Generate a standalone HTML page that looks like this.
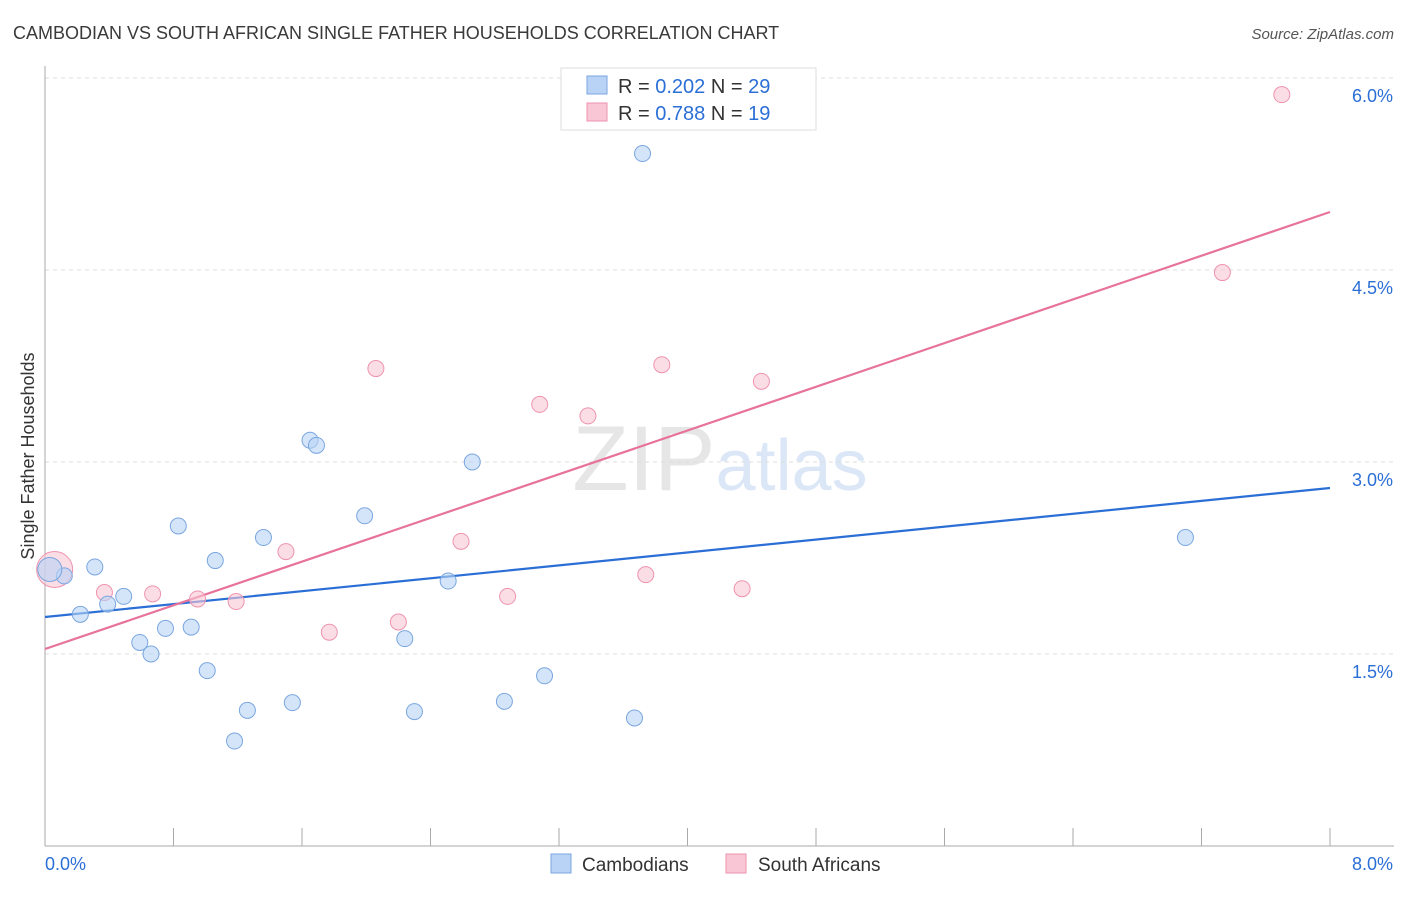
<!DOCTYPE html>
<html><head><meta charset="utf-8"><style>
body{margin:0;background:#fff;font-family:"Liberation Sans",sans-serif;}
svg text{font-family:"Liberation Sans",sans-serif;}
</style></head><body>
<svg id="chart" width="1406" height="892" viewBox="0 0 1406 892" xmlns="http://www.w3.org/2000/svg">
<text x="13" y="39" font-size="18" fill="#3a3a3a">CAMBODIAN VS SOUTH AFRICAN SINGLE FATHER HOUSEHOLDS CORRELATION CHART</text>
<text x="1394" y="39" font-size="15" fill="#555" text-anchor="end" font-style="italic">Source: ZipAtlas.com</text>
<text x="720" y="490" font-size="92" text-anchor="middle" fill="#e6e6e6" font-family="Liberation Serif,serif">ZIP<tspan fill="#dbe7f7" font-family="Liberation Sans,sans-serif" font-size="72">atlas</tspan></text>
<g id="grid"></g>
<g id="axes"></g>
<g id="lines"></g>
<g id="pts"></g>
<text transform="translate(34,456) rotate(-90)" font-size="18" fill="#333" text-anchor="middle">Single Father Households</text>
<g>
<rect x="561" y="68" width="255" height="62" fill="#fff" stroke="#ddd"/>
<rect x="587" y="76" width="20" height="18" fill="#b8d3f5" stroke="#7aa6e0"/>
<text x="618" y="93" font-size="20" fill="#333">R = <tspan fill="#2b6fd6">0.202</tspan>   N = <tspan fill="#2b6fd6">29</tspan></text>
<rect x="587" y="103" width="20" height="18" fill="#f9c6d5" stroke="#ee93ae"/>
<text x="618" y="120" font-size="20" fill="#333">R = <tspan fill="#2b6fd6"> 0.788</tspan>   N = <tspan fill="#2b6fd6"> 19</tspan></text>
</g>
<g>
<rect x="551" y="854" width="20" height="19" fill="#b8d3f5" stroke="#7aa6e0"/>
<text x="582" y="871" font-size="19" fill="#333">Cambodians</text>
<rect x="726" y="854" width="20" height="19" fill="#f9c6d5" stroke="#ee93ae"/>
<text x="758" y="871" font-size="19" fill="#333">South Africans</text>
</g>
</svg>
<script>
const yTicks=[1.5,3.0,4.5,6.0];
const xTickLabels=["0.0%","8.0%"];
const blueX=[0.12,0.31,0.22,0.39,0.49,0.59,0.66,0.75,0.83,0.91,1.01,1.06,1.18,1.26,1.36,1.54,1.65,1.69,1.99,2.24,2.30,2.51,2.66,2.86,3.11,3.67,3.72,7.10,0.03];
const blueY=[2.11,2.18,1.81,1.89,1.95,1.59,1.50,1.70,2.50,1.71,1.37,2.23,0.82,1.06,2.41,1.12,3.17,3.13,2.58,1.62,1.05,2.07,3.00,1.13,1.33,1.00,5.41,2.41,2.16];
const pinkX=[0.06,0.37,0.67,0.95,1.19,1.50,1.77,2.06,2.20,2.59,2.88,3.08,3.38,3.74,3.84,4.34,4.46,7.33,7.70];
const pinkY=[2.16,1.98,1.97,1.93,1.91,2.30,1.67,3.73,1.75,2.38,1.95,3.45,3.36,2.12,3.76,2.01,3.63,4.48,5.87];
const blueFit=[1.789,2.797];
const pinkFit=[1.539,4.953];
const NS="http://www.w3.org/2000/svg";
const sx=v=>45+v*160.625, sy=v=>846-v*128;
function mk(t,a,p){const e=document.createElementNS(NS,t);for(const k in a)e.setAttribute(k,a[k]);p.appendChild(e);return e;}
const grid=document.getElementById('grid'),axes=document.getElementById('axes'),lines=document.getElementById('lines'),pts=document.getElementById('pts');
yTicks.forEach(t=>{
 const l=mk('line',{x1:45,x2:1394,y1:sy(t),y2:sy(t),stroke:'#ddd','stroke-dasharray':'4,4'},grid);
 
 
 const tx=mk('text',{x:1393,y:sy(t)+24,'font-size':18,fill:'#2b6fd6','text-anchor':'end'},grid);
 tx.textContent=t.toFixed(1)+'%';
 
 
});
const ya=mk('line',{x1:45,x2:45,y1:66,y2:846,stroke:'#aaa'},axes);


const xa=mk('line',{x1:45,x2:1394,y1:846,y2:846,stroke:'#aaa'},axes);


for(let i=0;i<=10;i++){
 const tk=mk('line',{x1:sx(i*0.8),x2:sx(i*0.8),y1:828,y2:846,stroke:'#aaa'},axes);
 
 
}
[[0,'start',45],[8,'end',1393]].forEach(([v,a,x],i)=>{
 const tx=mk('text',{x:x,y:870,'font-size':18,fill:'#2b6fd6','text-anchor':a},axes);
 tx.textContent=xTickLabels[i];
 
 
});
const bl=mk('line',{x1:sx(0),y1:sy(blueFit[0]),x2:sx(8),y2:sy(blueFit[1]),stroke:'#2b6fd6','stroke-width':2.2},lines);


const pl=mk('line',{x1:sx(0),y1:sy(pinkFit[0]),x2:sx(8),y2:sy(pinkFit[1]),stroke:'#e8739a','stroke-width':2.2},lines);


pinkX.forEach((x,i)=>{
 const c=mk('circle',{cx:sx(x),cy:sy(pinkY[i]),r:i==0?18:8,fill:'#f9c6d5','fill-opacity':0.6,stroke:'#ee93ae','stroke-width':1},pts);
 
 
});
blueX.forEach((x,i)=>{
 const c=mk('circle',{cx:sx(x),cy:sy(blueY[i]),r:i==blueX.length-1?12:8,fill:'#b8d3f5','fill-opacity':0.6,stroke:'#7aa6e0','stroke-width':1},pts);
 
 
});
</script>
</body></html>
